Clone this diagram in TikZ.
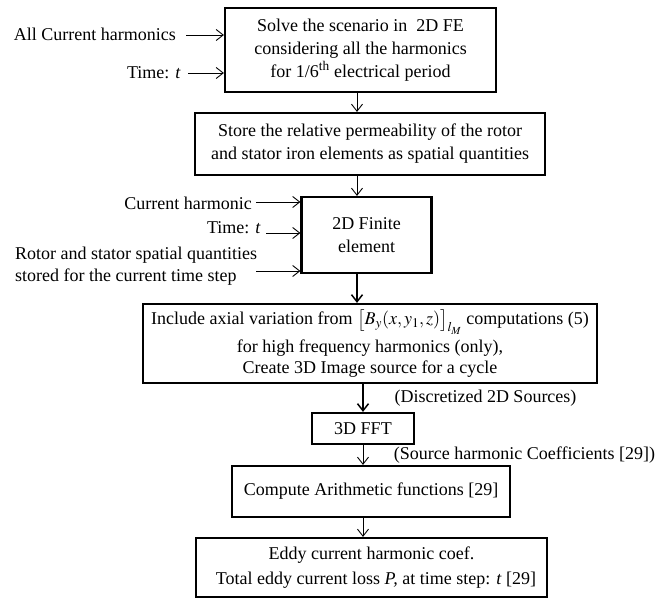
\documentclass[tikz,border=0pt]{standalone}
\usepackage{mathptmx}
\usepackage{fontspec}
\setmainfont{Liberation Serif}
\usetikzlibrary{arrows.meta}
\begin{document}
\begin{tikzpicture}[x=1pt,y=-1pt,
  box/.style={draw, line width=2.2pt, inner sep=0pt, align=center, font=\fontsize{18}{23}\selectfont},
  lbl/.style={inner sep=0pt, font=\fontsize{18}{22}\selectfont},
  arr/.style={-{Straight Barb[length=7pt,width=11pt]}, line width=0.9pt},
  barr/.style={-{Straight Barb[length=7pt,width=11pt,line width=1.5pt]}, line width=1.8pt},
]
\useasboundingbox (0,0) rectangle (657,600);

% boxes
\node[box, minimum width=271pt, minimum height=84pt] (b1) at (360.5,50)
  {Solve the scenario in\ \ 2D FE\\considering all the harmonics\\for 1/6\textsuperscript{th} electrical period};
\node[box, minimum width=350pt, minimum height=62pt] (b2) at (370,144)
  {Store the relative permeability of the rotor\\and stator iron elements as spatial quantities};
\node[box, minimum width=130pt, minimum height=76pt] (b3) at (366.5,235)
  {2D Finite\\element};
\node[box, minimum width=454pt, minimum height=79pt, font=\fontsize{18}{21}\selectfont] (b4) at (370,343.5)
  {Include axial variation from $\big[B_y(x,y_1,z)\big]_{l_M}$ computations (5)\\[5pt]for high frequency harmonics (only),\\Create 3D Image source for a cycle};
\node[box, minimum width=102pt, minimum height=31pt] (b5) at (363,428.5) {3D FFT};
\node[box, minimum width=278pt, minimum height=51pt] (b6) at (371,491.5) {Compute Arithmetic functions [29]};
\node[box, minimum width=351pt, minimum height=59pt, font=\fontsize{18}{25}\selectfont] (b7) at (371.5,567.5)
  {Eddy current harmonic coef.\\\ \ Total eddy current loss \textit{P,} at time step: \textit{t} [29]};

% input labels (top)
\node[lbl, anchor=east] (l1) at (176,34) {All Current harmonics};
\node[lbl, anchor=east] (l2) at (181,73) {Time: \textit{t}};
\coordinate (s1) at (186,35);
\coordinate (s2) at (188,73);
\draw[arr] (s1) -- (s1 -| b1.west);
\draw[arr] (s2) -- (s2 -| b1.west);

% input labels (second group)
\node[lbl, anchor=east] (l3) at (252,203) {Current harmonic};
\node[lbl, anchor=east] (l4) at (261,228) {Time: \textit{t}};
\node[lbl, anchor=west, align=left, font=\fontsize{18}{22}\selectfont] (l5) at (15,266)
  {Rotor and stator spatial quantities\\stored for the current time step};
\coordinate (s3) at (256,202);
\coordinate (s4) at (266,233);
\coordinate (s5) at (256,271);
\draw[arr] (s3) -- (s3 -| b3.west);
\draw[arr] (s4) -- (s4 -| b3.west);
\draw[arr] (s5) -- (s5 -| b3.west);

% side notes
\node[lbl] (n1) at (485.5,398) {(Discretized 2D Sources)};
\node[lbl] (n2) at (524.5,455) {(Source harmonic Coefficients [29])};

% vertical connectors
\coordinate (xa) at (357,0);
\coordinate (xb) at (363,0);
\draw[arr]  (b1.south -| xa) -- (b2.north -| xa);
\draw[arr]  (b2.south -| xa) -- (b3.north -| xa);
\draw[barr] (b3.south -| xa) -- (b4.north -| xa);
\draw[barr] (b4.south -| xb) -- (b5.north -| xb);
\draw[arr]  (b5.south -| xb) -- (b6.north -| xb);
\draw[arr]  (b6.south -| xb) -- (b7.north -| xb);
\end{tikzpicture}
\end{document}
